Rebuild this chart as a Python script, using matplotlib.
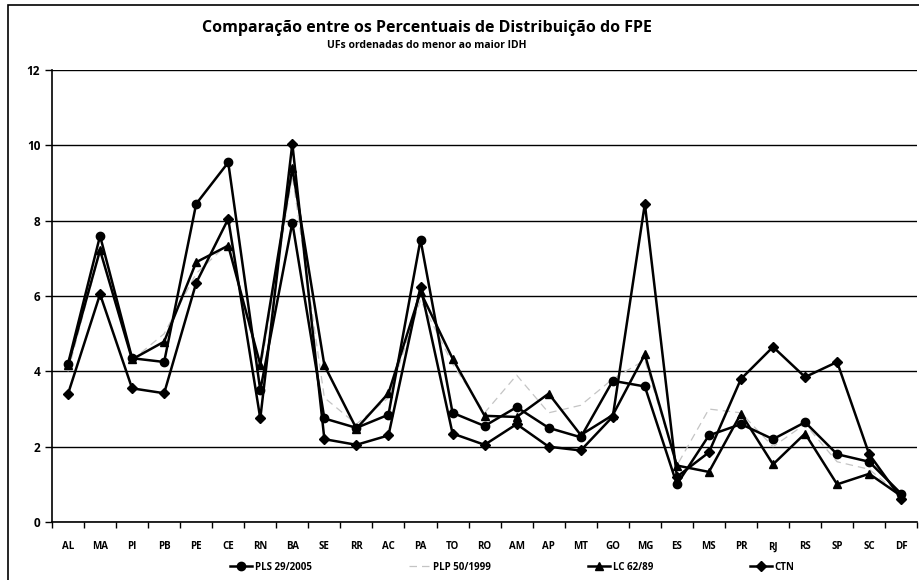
import matplotlib
matplotlib.use("Agg")
import matplotlib.pyplot as plt
import numpy as np

# UFs ordenadas do menor ao maior IDH
ufs = ['AL', 'MA', 'PI', 'PB', 'PE', 'CE', 'RN', 'BA', 'SE', 'RR', 'AC', 'PA', 'TO', 'RO',
       'AM', 'AP', 'MT', 'GO', 'MG', 'ES', 'MS', 'PR', 'RJ', 'RS', 'SP', 'SC', 'DF']

pls_29_2005 = [4.2, 7.6, 4.35, 4.25, 8.45, 9.55, 3.5, 7.95, 2.75, 2.5, 2.85, 7.5, 2.9, 2.55,
               3.05, 2.5, 2.25, 3.75, 3.6, 1.0, 2.3, 2.6, 2.2, 2.65, 1.8, 1.6, 0.75]
plp_50_1999 = [4.0, 7.2, 4.3, 5.0, 6.6, 7.4, 4.0, 9.2, 3.3, 2.6, 3.3, 5.9, 4.2, 2.9,
               3.9, 2.9, 3.1, 3.8, 4.3, 1.5, 3.0, 2.9, 2.0, 2.6, 1.6, 1.4, 0.7]
lc_62_89 = [4.16, 7.22, 4.32, 4.79, 6.90, 7.34, 4.18, 9.40, 4.16, 2.48, 3.42, 6.11, 4.34, 2.82,
            2.79, 3.41, 2.31, 2.84, 4.45, 1.50, 1.33, 2.88, 1.53, 2.35, 1.00, 1.28, 0.69]
ctn = [3.4, 6.05, 3.55, 3.42, 6.35, 8.05, 2.75, 10.05, 2.2, 2.05, 2.3, 6.25, 2.35, 2.05,
       2.6, 2.0, 1.9, 2.8, 8.45, 1.2, 1.85, 3.8, 4.65, 3.85, 4.25, 1.8, 0.62]

font = ['Liberation Sans Narrow', 'Open Sans', 'DejaVu Sans']
plt.rcParams['font.family'] = font
plt.rcParams['font.weight'] = 'bold'

fig = plt.figure(figsize=(9.2, 5.8), dpi=100)
ax = fig.add_axes([0.0565, 0.1, 0.9405, 0.779])

x = np.arange(len(ufs))
ax.plot(x, pls_29_2005, color='black', lw=1.8, marker='o', ms=6, label='PLS 29/2005', zorder=4)
ax.plot(x, plp_50_1999, color='#c4c4c4', lw=0.9, ls=(0, (6, 4)), label='PLP 50/1999', zorder=2)
ax.plot(x, lc_62_89, color='black', lw=1.8, marker='^', ms=6, label='LC 62/89', zorder=3)
ax.plot(x, ctn, color='black', lw=1.8, marker='D', ms=5, label='CTN', zorder=3)

ax.set_xlim(-0.5, len(ufs) - 0.5)
ax.set_ylim(0, 12)
ax.set_yticks(range(0, 13, 2))
ax.yaxis.grid(True, color='black', lw=1.0)
ax.set_axisbelow(True)

ax.set_xticks(x)
ax.set_xticklabels(ufs, fontsize=7, fontweight='bold')
ax.set_xticks(np.arange(-0.5, len(ufs), 1), minor=True)
ax.tick_params(axis='x', which='major', length=0, pad=14)
ax.tick_params(axis='x', which='minor', length=4, width=1.0, direction='out')
ax.tick_params(axis='y', labelsize=8.5, length=5, width=1.0, direction='out')

for s in ['top', 'right']:
    ax.spines[s].set_visible(False)
ax.spines['left'].set_linewidth(1.2)
ax.spines['bottom'].set_linewidth(1.2)

fig.text(0.464, 0.952, 'Comparação entre os Percentuais de Distribuição do FPE',
         ha='center', va='center', fontsize=11.5, fontweight='bold')
fig.text(0.464, 0.922, 'UFs ordenadas do menor ao maior IDH',
         ha='center', va='center', fontsize=7.5, fontweight='bold')

fig.legend(loc='center', bbox_to_anchor=(0.557, 0.022), ncol=4, frameon=False,
           fontsize=7, columnspacing=10, handlelength=2.2, handletextpad=0.3)

# moldura externa do gráfico
fig.patches.append(plt.Rectangle((0.009, -0.01), 1.0, 1.002, transform=fig.transFigure,
                                 fill=False, edgecolor='black', lw=1.2))

fig.savefig('out.png', dpi=100)
